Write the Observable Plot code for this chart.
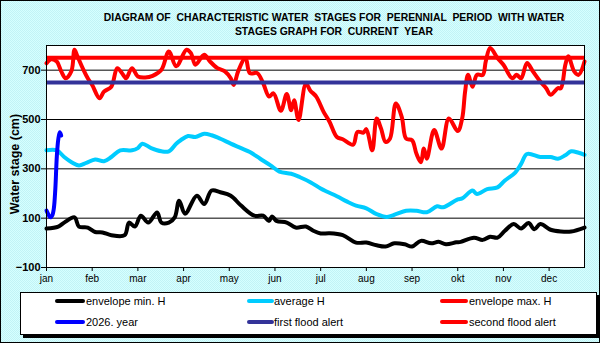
<!DOCTYPE html>
<html><head><meta charset="utf-8">
<script src="https://cdn.jsdelivr.net/npm/d3@7"></script>
<script src="https://cdn.jsdelivr.net/npm/@observablehq/plot@0.6"></script>
<style>
html,body{margin:0;padding:0;background:#fff;}
#chart{position:relative;width:600px;height:343px;overflow:hidden;
  background-color:#cdfdfd;
  background-image:repeating-conic-gradient(#d6ffff 0 25%, #c2f3f6 0 50%);
  background-size:2px 2px;
  font-family:"Liberation Sans",Arial,sans-serif;color:#000;}
#frame{position:absolute;left:0;top:0;width:600px;height:343px;box-sizing:border-box;border:1px solid #000;pointer-events:none;}
#plot{position:absolute;left:0;top:0;}
#title{position:absolute;left:34px;top:11px;width:600px;text-align:center;font-weight:bold;font-size:10.4px;line-height:13.6px;white-space:pre;}
#ylabel{position:absolute;left:15px;top:164px;transform:translate(-50%,-50%) rotate(-90deg);font-weight:bold;font-size:12.5px;white-space:nowrap;}
#legend{position:absolute;left:20px;top:292px;width:577px;height:43px;box-sizing:border-box;border:1px solid #000;background:#fff;box-shadow:3px 3px 0 #000;}
.sw{position:absolute;height:4px;border-radius:2px;}
.lt{position:absolute;font-size:11px;line-height:12px;white-space:nowrap;}
g[aria-label="y-axis tick label"] text{font-weight:bold;}
</style>
</head><body>
<div id="chart">
  <div id="plot"></div>
  <div id="title"></div>
  <div id="ylabel"></div>
  <div id="legend"></div>
  <div id="frame"></div>
</div>
<script>
// ---- text ----
const titleLines = ["DIAGRAM OF  CHARACTERISTIC WATER  STAGES FOR  PERENNIAL  PERIOD  WITH WATER", "STAGES GRAPH FOR  CURRENT  YEAR"];
const yAxisTitle = "Water stage (cm)";
const months = ["jan","feb","mar","apr","may","jun","jul","aug","sep","okt","nov","dec"];
const monthTickDays = [0,31,62,93,124,155,186,217,248,279,310,341];
const yTicks = [-100,100,300,500,700];
const gridLevels = [700,500,300,100];

// ---- series: [day, water stage cm] ----
const envelopeMin = [[0,58],[8,66],[12,82],[19,103],[22,66],[28,62],[33,44],[38,42],[44,31],[53,31],[56,82],[60,66],[64,110],[69,82],[75,123],[78,82],[83,82],[87,103],[90,171],[94,118],[102,191],[107,157],[112,212],[118,205],[125,191],[132,151],[141,110],[147,110],[151,89],[153,107],[156,89],[163,82],[169,62],[176,66],[181,49],[186,38],[192,39],[201,31],[210,1],[217,1],[224,-10],[230,-15],[236,-2],[243,-6],[248,-15],[254,8],[261,-2],[266,4],[271,-6],[278,2],[281,4],[290,21],[296,12],[301,25],[306,21],[311,49],[317,76],[322,58],[327,80],[331,55],[335,76],[342,53],[349,46],[356,46],[365,62]];
const averageH = [[0,375],[7,375],[12,348],[17,327],[22,314],[27,324],[33,338],[39,331],[44,348],[50,375],[58,375],[62,384],[65,402],[71,384],[78,371],[83,371],[88,402],[91,416],[96,433],[101,429],[107,442],[112,436],[118,422],[125,402],[132,384],[138,368],[145,341],[152,314],[158,289],[166,280],[172,266],[179,246],[186,220],[190,208],[197,189],[204,167],[210,151],[217,140],[224,116],[231,105],[237,116],[244,130],[251,130],[258,124],[265,148],[269,144],[279,176],[282,180],[289,212],[292,198],[299,218],[306,225],[311,253],[318,285],[322,320],[326,360],[335,348],[342,348],[347,341],[352,355],[356,371],[361,365],[365,357]];
const envelopeMax = [[0,728],[3,744],[7,735],[10,695],[13,667],[17,698],[19,783],[21,756],[25,702],[28,667],[31,640],[36,586],[39,613],[44,633],[48,708],[52,681],[54,667],[58,708],[62,674],[67,670],[72,677],[78,702],[83,776],[88,716],[95,783],[98,769],[101,722],[107,763],[111,735],[116,708],[121,695],[125,667],[127,640],[130,695],[135,749],[138,688],[143,688],[147,647],[151,593],[154,606],[159,535],[163,603],[166,537],[168,578],[171,498],[176,645],[179,617],[183,593],[188,531],[192,491],[197,429],[201,420],[208,398],[211,450],[215,447],[217,461],[221,375],[224,504],[227,463],[230,409],[233,422],[237,565],[241,511],[244,422],[248,416],[251,361],[254,327],[256,382],[258,341],[263,457],[268,382],[273,504],[279,453],[282,504],[284,613],[286,681],[289,633],[292,681],[296,681],[298,735],[301,790],[306,749],[310,722],[316,667],[319,681],[322,667],[326,729],[330,695],[335,654],[339,627],[342,600],[347,627],[349,627],[352,722],[354,756],[358,695],[361,681],[365,735]];
const year2026 = [[0,131],[1,118],[2,107],[3,104],[4,112],[5,140],[6,220],[7,350],[8,420],[9,448],[10,435]];
const firstFloodAlert = 650;
const secondFloodAlert = 750;

const series = [
  {name:"envelope min. H", color:"#000000", data:envelopeMin},
  {name:"average H", color:"#00ccff", data:averageH},
  {name:"envelope max. H", color:"#ff0000", data:envelopeMax},
  {name:"2026. year", color:"#0000ff", data:year2026},
  {name:"first flood alert", color:"#333399", level:firstFloodAlert},
  {name:"second flood alert", color:"#ff0000", level:secondFloodAlert}
];
const rows = s => s.data.map(([day,h]) => ({day, h}));

const lineMark = s => Plot.line(rows(s), {x:"day", y:"h", stroke:s.color, strokeWidth:4, curve:"catmull-rom", strokeLinejoin:"round", strokeLinecap:"round"});

const chart = Plot.plot({
  width:600, height:290,
  marginTop:45, marginBottom:23, marginLeft:46, marginRight:16,
  style:{background:"transparent", fontFamily:"Liberation Sans, Arial, sans-serif", fontSize:"10px", color:"#000", overflow:"visible"},
  x:{domain:[0,365]},
  y:{domain:[-100,800]},
  marks:[
    Plot.frame({fill:"white"}),
    Plot.ruleY(gridLevels, {stroke:"#000", strokeWidth:1}),
    Plot.axisX({ticks:monthTickDays, tickFormat:d => months[monthTickDays.indexOf(d)], tickSize:4, tickPadding:3, label:null, fontSize:10}),
    Plot.axisY({ticks:yTicks, tickSize:5, tickPadding:1, label:null, fontSize:11}),
    lineMark(series[0]),
    lineMark(series[1]),
    lineMark(series[2]),
    Plot.ruleY([firstFloodAlert], {stroke:series[4].color, strokeWidth:4}),
    Plot.ruleY([secondFloodAlert], {stroke:series[5].color, strokeWidth:4}),
    lineMark(series[3]),
    Plot.frame({stroke:"#000", strokeWidth:1})
  ]
});
document.getElementById("plot").appendChild(chart);

document.getElementById("title").textContent = titleLines.join("\n");
document.getElementById("ylabel").textContent = yAxisTitle;

// legend
const legend = document.getElementById("legend");
const cols = [{sx:55, sw:30, tx:86},{sx:247, sw:27, tx:274},{sx:440, sw:28, tx:469}];
const rowsY = [301, 322];
series.forEach((s,i) => {
  const c = cols[i % 3], y = rowsY[Math.floor(i / 3)];
  const sw = document.createElement("div");
  sw.className = "sw";
  sw.style.left = (c.sx - 21) + "px";
  sw.style.top = (y - 2 - 293) + "px";
  sw.style.width = c.sw + "px";
  sw.style.background = s.color;
  legend.appendChild(sw);
  const t = document.createElement("div");
  t.className = "lt";
  t.style.left = (c.tx - 21) + "px";
  t.style.top = (y - 6 - 293) + "px";
  t.textContent = s.name;
  legend.appendChild(t);
});
</script>
</body></html>
